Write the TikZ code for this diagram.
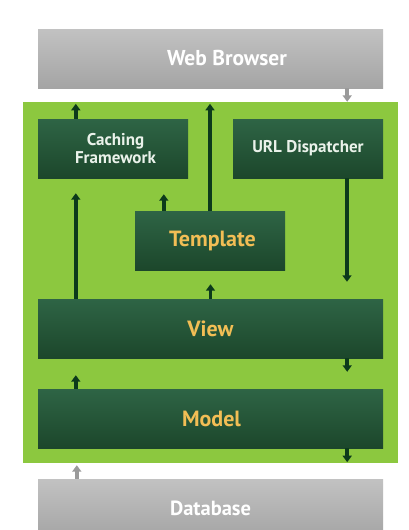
\documentclass[tikz,border=0pt]{standalone}
\usepackage{fontspec}
\setmainfont{PT Sans}
\usetikzlibrary{arrows.meta}

\definecolor{panelgreen}{HTML}{8CC83F}
\definecolor{boxtop}{HTML}{2E6445}
\definecolor{boxbot}{HTML}{1C472B}
\definecolor{flowgreen}{HTML}{0C3A1B}
\definecolor{labelgold}{HTML}{F2BE55}
\definecolor{labelpale}{HTML}{EAF2EA}
\definecolor{greytop}{HTML}{C2C2C2}
\definecolor{greybot}{HTML}{A4A4A4}
\definecolor{greyflow}{HTML}{9A9A9A}

\tikzset{
    layer/.style={inner sep=0pt, minimum height=59pt, align=center,
        top color=boxtop, bottom color=boxbot, font=\bfseries},
    small/.style={layer, minimum width=150pt, text=labelpale,
        font=\bfseries\fontsize{17}{18}\selectfont},
    wide/.style={layer, minimum width=345pt},
    gold/.style={text=labelgold, font=\bfseries\fontsize{22}{24}\selectfont},
    outer/.style={wide, top color=greytop, bottom color=greybot,
        text=white, font=\bfseries\fontsize{20.5}{22}\selectfont},
    flow/.style={draw=flowgreen, line width=3.6pt,
        -{Triangle[width=9pt,length=6.5pt]}},
    greyarrow/.style={flow, draw=greyflow}
}

\begin{document}
\begin{tikzpicture}[x=1pt,y=-1pt]
    \useasboundingbox[fill=white] (0,0) rectangle (408,530);

    % outer layers
    \node[outer, font=\bfseries\fontsize{21.5}{22}\selectfont] (web) at (210.5,58.5) {\hspace*{33pt}Web Browser};
    \node[fill=panelgreen, inner sep=0pt, minimum width=375pt, minimum height=361pt] (panel) at (210.5,282.5) {};
    \node[outer] (db) at (210.5,508.5) {Database};

    % django parts
    \node[small] (cache) at (113,148.5) {\hspace*{5pt}Caching\\\hspace*{5pt}Framework};
    \node[small] (urls) at (308,148.5) {URL Dispatcher};
    \node[small, gold] (tmpl) at (210,240.5) {\hspace*{5pt}Template};
    \node[wide, gold] (view) at (210.5,328.5) {View};
    \node[wide, gold] (model) at (210.5,418.5) {\hspace*{2pt}Model};

    % request / response flow
    \draw[greyarrow] ([xshift=-36pt]web.south east) -- ([xshift=-36pt]web.south east |- panel.north);
    \draw[flow, shorten >=2pt] ([xshift=38pt]cache.north west) -- ([xshift=38pt]cache.north west |- panel.north);
    \draw[flow, shorten >=2pt] (tmpl.north) -- (tmpl.north |- panel.north);
    \draw[flow, shorten >=17pt] ([xshift=39pt]urls.south) -- ([xshift=39pt]urls.south |- view.north);
    \draw[flow, shorten >=15pt] ([xshift=38pt]view.north west) -- ([xshift=38pt]view.north west |- cache.south);
    \draw[flow, shorten >=16pt] ([xshift=29pt]tmpl.north west) -- ([xshift=29pt]tmpl.north west |- cache.south);
    \draw[flow, shorten >=14pt] (view.north) -- (view.north |- tmpl.south);
    \draw[flow, shorten >=17pt] ([xshift=-36pt]view.south east) -- ([xshift=-36pt]view.south east |- model.north);
    \draw[flow, shorten >=17pt] ([xshift=38pt]model.north west) -- ([xshift=38pt]model.north west |- view.south);
    \draw[flow, shorten >=1pt] ([xshift=-36pt]model.south east) -- ([xshift=-36pt]model.south east |- panel.south);
    \draw[greyarrow, shorten >=2pt] ([xshift=39pt]db.north west) -- ([xshift=39pt]db.north west |- panel.south);
\end{tikzpicture}
\end{document}
